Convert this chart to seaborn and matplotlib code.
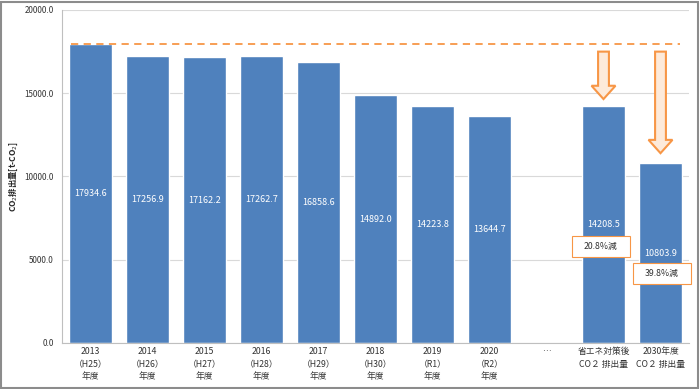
import numpy as np
import pandas as pd
import seaborn as sns
import matplotlib.pyplot as plt
from matplotlib.patches import FancyArrow, Rectangle

categories = ['2013\n（H25）\n年度', '2014\n（H26）\n年度', '2015\n（H27）\n年度',
              '2016\n（H28）\n年度', '2017\n（H29）\n年度', '2018\n（H30）\n年度',
              '2019\n（R1）\n年度', '2020\n（R2）\n年度', '…',
              '省エネ対策後\nCO２ 排出量\n', '2030年度\nCO２ 排出量\n']
values = [17934.6, 17256.9, 17162.2, 17262.7, 16858.6, 14892.0,
          14223.8, 13644.7, np.nan, 14208.5, 10803.9]
reduction_labels = ['20.8%減', '39.8%減']

df = pd.DataFrame({'cat': categories, 'val': values})

sns.set_style("white")
plt.rcParams['font.family'] = ['Noto Sans CJK JP', 'DejaVu Sans']

blue = '#4F81BD'
orange = '#F79646'

fig = plt.figure(figsize=(7, 3.89), dpi=100)
ax = fig.add_axes([62/700, 1 - 343/389, 627/700, 333/389])

sns.barplot(data=df, x='cat', y='val', order=categories, color=blue,
            saturation=1, width=0.74, ax=ax)

ax.set_ylim(0, 20000)
ax.set_xlim(-0.5, len(categories) - 0.5)
ax.set_yticks(np.arange(0, 20001, 5000))
ax.set_yticklabels([f'{v:.1f}' for v in np.arange(0, 20001, 5000)], fontsize=5.8, color='#333333')
ax.yaxis.grid(True, color='#d9d9d9', lw=0.8)
ax.set_axisbelow(True)
for s in ['top', 'right']:
    ax.spines[s].set_visible(False)
ax.spines['left'].set_color('#bfbfbf')
ax.spines['bottom'].set_color('#bfbfbf')
ax.tick_params(axis='y', length=4, color='#bfbfbf', pad=2)
ax.tick_params(axis='x', length=0, labelsize=6.3, pad=3, labelcolor='#333333')
for lbl in ax.get_xticklabels():
    lbl.set_linespacing(1.5)
ax.set_xticks(np.arange(len(categories) + 1) - 0.5, minor=True)
ax.tick_params(axis='x', which='minor', length=4, color='#bfbfbf')
ax.set_xlabel('')
ax.set_ylabel('CO$_2$排出量[t-CO$_2$]', fontsize=6, fontweight='bold')
ax.yaxis.set_label_coords(-42/627, 0.5)

# value labels inside bars
for i, v in enumerate(values):
    if not np.isnan(v):
        ax.text(i, v / 2, f'{v:.1f}', ha='center', va='center', color='white', fontsize=6.5)

# baseline dashed line
ax.plot([-0.35, 10.35], [values[0], values[0]], ls='--', color=orange, lw=1.3, dashes=(4, 3))

# arrows
for x, y0, y1 in [(9, 17500, 14650), (10, 17500, 11400)]:
    arr = FancyArrow(x, y0, 0, -(y0 - y1), width=0.19, head_width=0.42, head_length=800,
                     length_includes_head=True, fc='#FDEADA', ec=orange, lw=1.5, zorder=5)
    ax.add_patch(arr)

# reduction boxes
for x, y, t in [(8.95, 5800, reduction_labels[0]), (10.02, 4175, reduction_labels[1])]:
    ax.add_patch(Rectangle((x - 0.51, y - 630), 1.02, 1260, fc='white', ec=orange, lw=0.8,
                           zorder=6, clip_on=False))
    ax.text(x, y, t, ha='center', va='center', fontsize=6.3, color='#333333', zorder=7)

fig.patches.append(Rectangle((0.002, 0.003), 0.995, 0.993, transform=fig.transFigure,
                             fill=False, ec='#8c8c8c', lw=1.5))

fig.savefig('out.png', dpi=100)
